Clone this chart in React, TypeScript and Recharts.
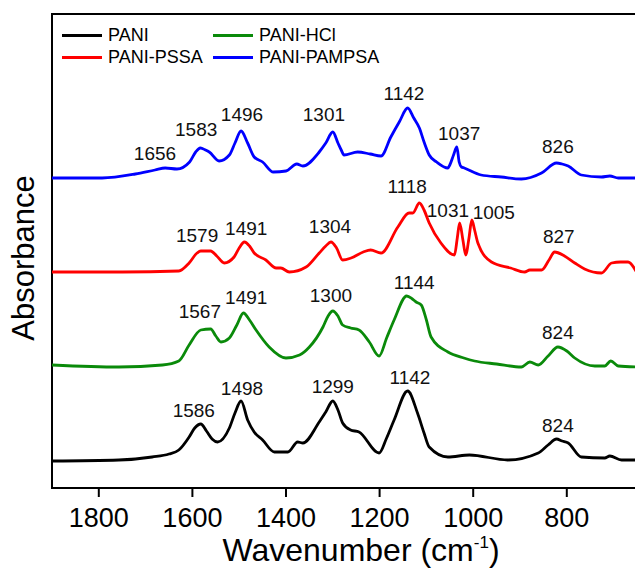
import { LineChart, Line, XAxis, YAxis, ReferenceDot, ReferenceArea, Legend } from 'recharts';

const FONT = '"Liberation Sans", Arial, Helvetica, sans-serif';

// [wavenumber (cm-1), absorbance in arb. units, traces stacked with an offset]
const pani: [number, number][] = [
  [1900, 27], [1757, 28], [1686, 31], [1650, 34], [1629, 38], [1607, 51], [1595, 60], [1582, 64],
  [1570, 57], [1558, 49], [1546, 46], [1521, 60], [1509, 75], [1496, 87], [1482, 68], [1468, 56],
  [1450, 48], [1425, 36], [1396, 36], [1375, 46], [1364, 45], [1329, 66], [1315, 76], [1300, 87],
  [1289, 78], [1279, 65], [1262, 58], [1244, 56], [1201, 35], [1185, 50], [1169, 68], [1140, 97],
  [1119, 75], [1105, 55], [1094, 41], [1054, 31], [1008, 33], [926, 28], [861, 35], [840, 43],
  [822, 49], [810, 47], [797, 45], [769, 31], [719, 30], [708, 32], [683, 28], [651, 28],
];

const paniHcl: [number, number][] = [
  [1900, 123], [1757, 121], [1664, 123], [1629, 127], [1607, 143], [1582, 158], [1561, 159],
  [1550, 152], [1539, 146], [1521, 150], [1505, 163], [1491, 175], [1478, 168], [1464, 158],
  [1436, 141], [1400, 130], [1371, 133], [1350, 141], [1321, 161], [1310, 172], [1300, 177],
  [1289, 172], [1279, 163], [1262, 160], [1244, 158], [1222, 146], [1201, 132], [1185, 150],
  [1169, 168], [1142, 192], [1130, 189], [1122, 186], [1111, 183], [1100, 168], [1090, 151],
  [1054, 136], [1020, 130], [997, 127], [950, 124], [897, 121], [879, 126], [861, 123], [840, 132],
  [819, 141], [800, 137], [783, 130], [740, 122], [719, 122], [706, 127], [690, 122], [651, 121],
];

const paniPssa: [number, number][] = [
  [1900, 216], [1750, 216], [1629, 217], [1607, 225], [1590, 235], [1582, 237], [1561, 237],
  [1548, 232], [1532, 225], [1511, 231], [1500, 240], [1489, 246], [1478, 242], [1468, 235],
  [1443, 228], [1421, 220], [1411, 220], [1393, 216], [1357, 221], [1329, 235], [1315, 242],
  [1304, 246], [1292, 240], [1279, 228], [1261, 230], [1235, 236], [1219, 238], [1197, 235],
  [1161, 261], [1137, 275], [1129, 275], [1115, 285], [1105, 278], [1094, 265], [1069, 245],
  [1040, 233], [1034, 250], [1029, 265], [1022, 248], [1016, 233], [1009, 250], [1003, 268],
  [997, 258], [990, 245], [961, 226], [920, 220], [890, 216], [879, 218], [854, 218], [838, 228],
  [826, 236], [805, 232], [783, 225], [762, 219], [726, 215], [704, 225], [685, 226], [669, 226],
  [651, 216],
];

const paniPampsa: [number, number][] = [
  [1900, 310], [1793, 310], [1722, 314], [1680, 318], [1658, 320], [1633, 319], [1606, 326],
  [1593, 336], [1583, 340], [1572, 338], [1564, 336], [1543, 327], [1521, 333], [1509, 345],
  [1496, 357], [1482, 345], [1468, 331], [1450, 326], [1427, 316], [1400, 317], [1377, 324],
  [1364, 322], [1329, 336], [1315, 345], [1300, 356], [1289, 345], [1282, 338], [1276, 333],
  [1247, 336], [1220, 334], [1197, 332], [1176, 351], [1158, 366], [1140, 380], [1127, 370],
  [1115, 360], [1105, 346], [1094, 333], [1078, 326], [1054, 320], [1050, 323], [1042, 333],
  [1035, 341], [1030, 326], [1025, 321], [1019, 320], [983, 313], [940, 311], [897, 309],
  [854, 315], [822, 325], [810, 324], [797, 322], [769, 313], [726, 311], [708, 312], [690, 310],
  [651, 310],
];

// peak annotations: text, wavenumber and absorbance where the text sits
const paniPeaks: [string, number, number][] = [
  ['1586', 1597, 78], ['1498', 1494, 100], ['1299', 1300, 102], ['1142', 1135, 111], ['824', 819, 63],
];
const paniHclPeaks: [string, number, number][] = [
  ['1567', 1584, 177], ['1491', 1485, 191], ['1300', 1304, 193], ['1144', 1126, 206], ['824', 819, 156],
];
const paniPssaPeaks: [string, number, number][] = [
  ['1579', 1590, 253], ['1491', 1485, 260], ['1304', 1306, 262], ['1118', 1141, 302],
  ['1031', 1054, 278], ['1005', 956, 276], ['827', 817, 252],
];
const paniPampsaPeaks: [string, number, number][] = [
  ['1656', 1680, 335], ['1583', 1592, 359], ['1496', 1494, 374], ['1301', 1319, 374],
  ['1142', 1148, 395], ['1037', 1030, 355], ['826', 819, 342],
];

const xTicks = [1800, 1600, 1400, 1200, 1000, 800];

const series = [
  { name: 'PANI', color: '#000000', points: pani, peaks: paniPeaks },
  { name: 'PANI-HCl', color: '#0a8a0a', points: paniHcl, peaks: paniHclPeaks },
  { name: 'PANI-PSSA', color: '#ff0000', points: paniPssa, peaks: paniPssaPeaks },
  { name: 'PANI-PAMPSA', color: '#0000ff', points: paniPampsa, peaks: paniPampsaPeaks },
];

const toRows = (pts: [number, number][]) => pts.map(([w, a]) => ({ w, a }));

function LegendBox() {
  return (
    <div
      style={{
        display: 'grid',
        gridTemplateColumns: '151px 190px',
        fontFamily: FONT,
        fontSize: 18,
        color: '#000',
      }}
    >
      {series.map((s) => (
        <div key={s.name} style={{ display: 'flex', alignItems: 'center', height: 22.5 }}>
          <span style={{ display: 'inline-block', width: 40, height: 3, background: s.color, marginRight: 6 }} />
          <span>{s.name}</span>
        </div>
      ))}
    </div>
  );
}

export default function App() {
  return (
    <div style={{ position: 'absolute', left: 0, top: 0, width: 635, height: 568, overflow: 'hidden', background: '#fff' }}>
      <LineChart width={640} height={568} margin={{ top: 14, right: 3, bottom: 20, left: 52 }}>
        <XAxis
          dataKey="w"
          type="number"
          domain={[650, 1900]}
          reversed
          allowDataOverflow
          ticks={xTicks}
          height={60}
          tickSize={9}
          tickMargin={11}
          stroke="#000"
          strokeWidth={2}
          tick={{ fill: '#000', fontSize: 27, fontFamily: FONT }}
          label={{
            content: () => (
              <g fontFamily={FONT} fill="#000">
                <text x={361} y={561} textAnchor="middle" fontSize={32}>
                  <tspan>Wavenumber (cm</tspan>
                  <tspan dy={-13} fontSize={17}>-1</tspan>
                  <tspan dy={13}>)</tspan>
                </text>
                <text
                  x={23}
                  y={258}
                  transform="rotate(-90 23 258)"
                  textAnchor="middle"
                  dominantBaseline="central"
                  fontSize={31}
                >
                  Absorbance
                </text>
              </g>
            ),
          }}
        />
        <YAxis type="number" domain={[0, 474]} hide />
        <ReferenceArea
          x1={1900}
          x2={650}
          y1={0}
          y2={474}
          fill="none"
          fillOpacity={0}
          stroke="#000"
          strokeWidth={2}
          strokeOpacity={1}
        />
        <Legend
          layout="horizontal"
          verticalAlign="middle"
          align="center"
          wrapperStyle={{ top: 24, left: 62, width: 350 }}
          content={() => <LegendBox />}
        />
        {series.map((s) => (
          <Line
            key={s.name}
            name={s.name}
            data={toRows(s.points)}
            dataKey="a"
            type="monotone"
            stroke={s.color}
            strokeWidth={2.8}
            dot={false}
            activeDot={false}
            isAnimationActive={false}
          />
        ))}
        {series.flatMap((s) =>
          s.peaks.map(([text, w, a]) => (
            <ReferenceDot
              key={s.name + text}
              x={w}
              y={a}
              r={0}
              fill="none"
              stroke="none"
              label={{ value: text, position: 'center', fontSize: 19, fill: '#111', fontFamily: FONT }}
            />
          )),
        )}
      </LineChart>
    </div>
  );
}
